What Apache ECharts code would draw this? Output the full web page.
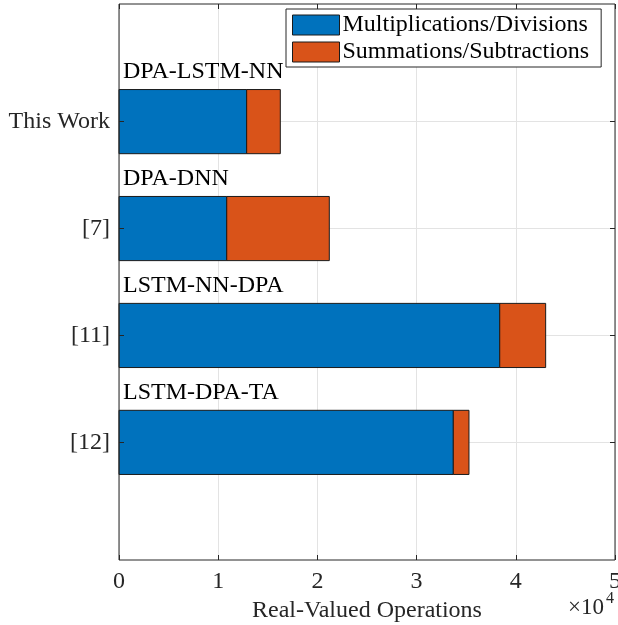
<!DOCTYPE html>
<html>
<head>
<meta charset="utf-8">
<script src="https://cdn.jsdelivr.net/npm/echarts@6/dist/echarts.min.js"></script>
<style>html,body{margin:0;padding:0;background:#fff;overflow:hidden;}#c{width:618px;height:625px;}</style>
</head>
<body>
<div id="c"></div>
<script>
const categories = ['This Work', '[7]', '[11]', '[12]'];
const positions = [1, 2, 3, 4];
const methods = ['DPA-LSTM-NN', 'DPA-DNN', 'LSTM-NN-DPA', 'LSTM-DPA-TA'];
const multDiv = [12870, 10860, 38380, 33700];
const sumSub = [3390, 10340, 4630, 1580];
const seriesNames = ['Multiplications/Divisions', 'Summations/Subtractions'];
const xTickLabels = ['0', '1', '2', '3', '4', '5'];

const FONT = '"Liberation Serif", "Times New Roman", serif';
const AX = '#262626';
const FS = 24;

const blueData = positions.map((p, i) => [0, multDiv[i], p]);
const orangeData = positions.map((p, i) => [multDiv[i], multDiv[i] + sumSub[i], p]);

function makeRender(withText) {
  return function (params, api) {
    const s = api.coord([api.value(0), api.value(2)]);
    const e = api.coord([api.value(1), api.value(2)]);
    const h = api.size([0, 0.6])[1];
    const children = [{
      type: 'rect',
      shape: { x: s[0], y: s[1] - h / 2, width: e[0] - s[0], height: h },
      style: Object.assign(api.style(), { stroke: '#1a1a1a', lineWidth: 1 })
    }];
    if (withText) {
      children.push({
        type: 'text',
        x: s[0] + 4,
        y: s[1] - h / 2 - 6,
        style: {
          text: methods[params.dataIndex],
          fontFamily: FONT, fontSize: FS, fill: '#000',
          align: 'left', verticalAlign: 'bottom'
        }
      });
    }
    return { type: 'group', children: children };
  };
}

const chart = echarts.init(document.getElementById('c'), null, { renderer: 'canvas' });
chart.setOption({
  animation: false,
  backgroundColor: '#fff',
  grid: { left: 119, right: 3, top: 4, bottom: 65, containLabel: false, outerBoundsMode: 'none',
    show: true, borderColor: AX, borderWidth: 1, backgroundColor: 'transparent', z: 6 },
  legend: {
    orient: 'vertical', left: 286, top: 9,
    padding: [4, 12, 3, 6], itemGap: 3, itemWidth: 47, itemHeight: 20,
    borderColor: AX, borderWidth: 1, backgroundColor: '#fff',
    icon: 'rect',
    itemStyle: { borderColor: '#1a1a1a', borderWidth: 1 },
    textStyle: { fontFamily: FONT, fontSize: FS, color: '#000', padding: [0, 0, 0, -2] },
    data: seriesNames
  },
  xAxis: [{
    type: 'value', min: 0, max: 50000, interval: 10000, position: 'bottom',
    axisLine: { show: false, onZero: false },
    axisTick: { show: true, inside: true, length: 5, lineStyle: { color: AX } },
    axisLabel: { fontFamily: FONT, fontSize: FS, color: AX, margin: 10,
      formatter: v => xTickLabels[Math.round(v / 10000)] },
    splitLine: { show: true, lineStyle: { color: '#e3e3e3', width: 1 } },
    name: 'Real-Valued Operations', nameLocation: 'middle', nameGap: 30,
    nameTextStyle: { fontFamily: FONT, fontSize: FS, color: AX }
  }, {
    type: 'value', min: 0, max: 50000, interval: 10000, position: 'top',
    axisLine: { show: false, onZero: false },
    axisTick: { show: true, inside: true, length: 5, lineStyle: { color: AX } },
    axisLabel: { show: false }, splitLine: { show: false }
  }],
  yAxis: [{
    type: 'value', min: -0.1, max: 5.1, inverse: true, position: 'left', z: 5,
    axisLine: { show: false, onZero: false },
    axisTick: { show: true, inside: true, length: 5, customValues: positions, lineStyle: { color: AX } },
    axisLabel: { fontFamily: FONT, fontSize: FS, color: AX, margin: 9, customValues: positions,
      formatter: v => categories[positions.indexOf(v)] },
    splitLine: { show: false }
  }, {
    type: 'value', min: -0.1, max: 5.1, inverse: true, position: 'right', z: 0,
    axisLine: { show: false, onZero: false },
    axisTick: { show: true, inside: true, length: 5, customValues: positions, lineStyle: { color: AX } },
    axisLabel: { show: false },
    splitLine: { show: true, lineStyle: { color: '#e3e3e3', width: 1 } }
  }],
  series: [{
    type: 'custom', name: seriesNames[0], xAxisIndex: 0, yAxisIndex: 0,
    itemStyle: { color: '#0072BD' },
    encode: { x: [0, 1], y: 2 },
    renderItem: makeRender(true),
    data: blueData, z: 2
  }, {
    type: 'custom', name: seriesNames[1], xAxisIndex: 0, yAxisIndex: 0,
    itemStyle: { color: '#D95319' },
    encode: { x: [0, 1], y: 2 },
    renderItem: makeRender(false),
    data: orangeData, z: 2
  }],
  graphic: [
    { type: 'text', left: 568, top: 596, style: { text: '×10', fontFamily: FONT, fontSize: 23, fill: AX } },
    { type: 'text', left: 606, top: 591, style: { text: '4', fontFamily: FONT, fontSize: 16, fill: AX } }
  ]
});
</script>
</body>
</html>
